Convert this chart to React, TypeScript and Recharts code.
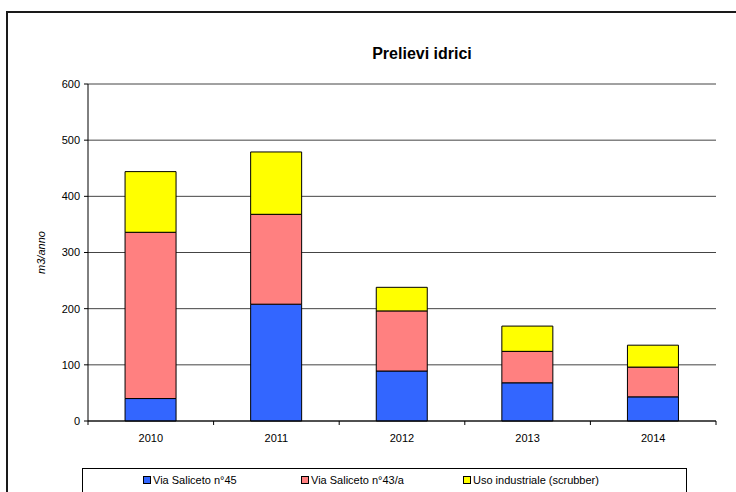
import React from 'react';
import { BarChart, Bar, XAxis, YAxis, CartesianGrid } from 'recharts';

// Annual water withdrawals (m3/anno) per source
const years = ['2010', '2011', '2012', '2013', '2014'];
const saliceto45 = [40, 208, 89, 68, 43];
const saliceto43a = [296, 160, 107, 56, 53];
const usoIndustriale = [108, 111, 42, 45, 39];
const yTicks = [0, 100, 200, 300, 400, 500, 600];

const seriesNames = ['Via Saliceto n°45', 'Via Saliceto n°43/a', 'Uso industriale (scrubber)'];
const seriesColors = ['#3366FF', '#FF8080', '#FFFF00'];

const data = years.map((year, i) => ({
  year,
  s45: saliceto45[i],
  s43a: saliceto43a[i],
  ind: usoIndustriale[i],
}));

const FONT = '"Liberation Sans", Arial, sans-serif';

// Category label with tick marks on the category boundaries
const YearTick = (props: any) => {
  const { x, y, payload, index, visibleTicksCount } = props;
  const half = payload && typeof payload.offset === 'number' && payload.offset > 0 ? payload.offset : 62.8;
  const axisY = y - 13;
  const last = index === (visibleTicksCount ?? years.length) - 1;
  return (
    <g>
      <line x1={x - half} x2={x - half} y1={axisY} y2={axisY + 4} stroke="#000" />
      {last && <line x1={x + half} x2={x + half} y1={axisY} y2={axisY + 4} stroke="#000" />}
      <text x={x} y={y} dy="0.71em" textAnchor="middle" fontSize={11} fontFamily={FONT} fill="#000">
        {payload.value}
      </text>
    </g>
  );
};

const LegendBox = () => {
  const lefts = [60, 218, 380];
  return (
    <div
      style={{
        position: 'absolute',
        left: 82,
        top: 468,
        width: 605,
        height: 40,
        border: '1px solid #000',
        boxSizing: 'border-box',
        background: '#fff',
      }}
    >
      {seriesNames.map((name, i) => (
        <div
          key={name}
          style={{
            position: 'absolute',
            left: lefts[i],
            top: 5,
            display: 'flex',
            alignItems: 'center',
            fontFamily: FONT,
            fontSize: 11,
            color: '#000',
            whiteSpace: 'nowrap',
          }}
        >
          <span
            style={{
              display: 'inline-block',
              width: 6,
              height: 6,
              background: seriesColors[i],
              border: '1px solid #000',
              marginRight: 2,
            }}
          />
          {name}
        </div>
      ))}
    </div>
  );
};

export default function App() {
  return (
    <div style={{ position: 'absolute', left: 0, top: 0, width: 736, height: 492, overflow: 'hidden', background: '#fff' }}>
      <div
        style={{
          position: 'absolute',
          left: 6,
          top: 11,
          width: 760,
          height: 520,
          border: '2px solid #1a1a1a',
        }}
      />
      <div
        style={{
          position: 'absolute',
          left: 322,
          top: 45,
          width: 200,
          textAlign: 'center',
          fontFamily: FONT,
          fontWeight: 'bold',
          fontSize: 16,
          color: '#000',
        }}
      >
        Prelievi idrici
      </div>
      <BarChart
        width={736}
        height={492}
        data={data}
        margin={{ top: 84, right: 20, bottom: 41, left: 28 }}
        barCategoryGap="29.5%"
        style={{ position: 'absolute', left: 0, top: 0 }}
      >
        <CartesianGrid vertical={false} stroke="#444" strokeWidth={1} />
        <XAxis
          dataKey="year"
          height={30}
          axisLine={{ stroke: '#000' }}
          tickLine={false}
          tickSize={4}
          tickMargin={9}
          tick={<YearTick />}
          interval={0}
        />
        <YAxis
          domain={[0, 600]}
          ticks={yTicks}
          width={60}
          axisLine={{ stroke: '#000' }}
          tickLine={{ stroke: '#000' }}
          tickSize={4}
          tickMargin={4}
          tick={{ fontSize: 11, fontFamily: FONT, fill: '#000' }}
          label={(p: any) => {
            const vb = p.viewBox;
            const cx = vb.x + 17;
            const cy = vb.y + vb.height / 2;
            return (
              <text
                x={cx}
                y={cy}
                transform={`rotate(-90, ${cx}, ${cy})`}
                textAnchor="middle"
                fontSize={11}
                fontStyle="italic"
                fontFamily={FONT}
                fill="#000"
              >
                m3/anno
              </text>
            );
          }}
        />
        <Bar dataKey="s45" name={seriesNames[0]} stackId="a" fill={seriesColors[0]} stroke="#000" strokeWidth={1} isAnimationActive={false} />
        <Bar dataKey="s43a" name={seriesNames[1]} stackId="a" fill={seriesColors[1]} stroke="#000" strokeWidth={1} isAnimationActive={false} />
        <Bar dataKey="ind" name={seriesNames[2]} stackId="a" fill={seriesColors[2]} stroke="#000" strokeWidth={1} isAnimationActive={false} />
      </BarChart>
      <LegendBox />
    </div>
  );
}
